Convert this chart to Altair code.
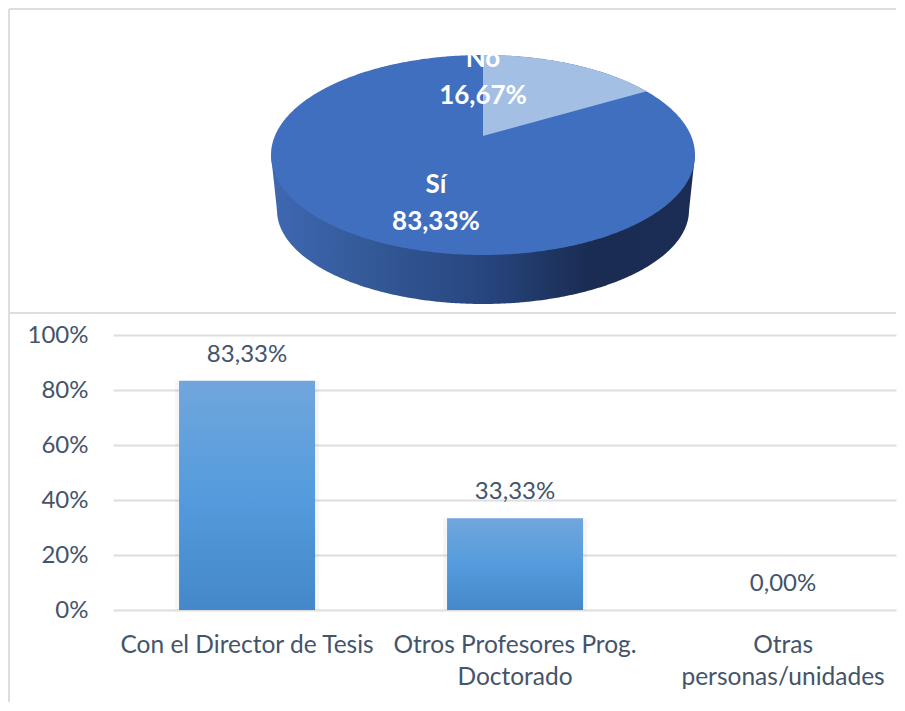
import numpy as np
import pandas as pd
import altair as alt

# ---- values
pie_labels = ["Sí", "No"]
pie_shares = [83.33, 16.67]
bar_categories = ["Con el Director de Tesis", "Otros Profesores Prog.\nDoctorado", "Otras\npersonas/unidades"]
bar_values = [83.33, 33.33, 0.0]
y_ticks = [0, 20, 40, 60, 80, 100]

FONT = "Lato"
TXT = "#44546A"
GRID = "#DEDEDE"
FRAME = "#DEDEDE"
W = 783


def pct(v):
    return f"{v:.2f}".replace(".", ",") + "%"


# ---- pie geometry in ellipse units (rx = ry = 1 on the two scales)
t = np.linspace(-np.pi / 2, np.pi / 2, 361)
xs = np.sin(t)
face = pd.DataFrame({"x": xs, "y": np.sqrt(np.clip(1 - xs**2, 0, 1)), "y2": -np.sqrt(np.clip(1 - xs**2, 0, 1))})

FORESHORTEN = 0.84
APEX = 0.19
theta = 2 * np.pi * pie_shares[1] / 100 * FORESHORTEN
xe = np.sin(theta)
xw = np.linspace(0, xe, 120)
ye = np.cos(theta)
wedge = pd.DataFrame({"x": xw, "y": np.sqrt(1 - xw**2), "y2": APEX + (ye - APEX) * xw / xe})

RX2, YC2, RY2 = 0.972, -0.55, 0.94
low = np.where(
    np.abs(xs) <= RX2,
    YC2 - RY2 * np.sqrt(np.clip(1 - (xs / RX2) ** 2, 0, 1)),
    YC2 * (1 - np.abs(xs)) / (1 - RX2),
)
wall = pd.DataFrame({"x": xs, "y": 0.0, "y2": low})

xdom = [-370 / 212, (W - 370) / 212]
ydom = [-1.8, 1.47]
X = alt.X("x:Q", scale=alt.Scale(domain=xdom, nice=False, zero=False), axis=None)
Y = alt.Y("y:Q", scale=alt.Scale(domain=ydom, nice=False, zero=False), axis=None)

wall_grad = alt.Gradient(
    gradient="linear", x1=0, x2=1, y1=0, y2=0,
    stops=[
        alt.GradientStop(color="#3F68B2", offset=0),
        alt.GradientStop(color="#335896", offset=0.25),
        alt.GradientStop(color="#27467F", offset=0.5),
        alt.GradientStop(color="#1A2C52", offset=0.75),
        alt.GradientStop(color="#1B2D55", offset=1),
    ],
)


def area(df, fill):
    return alt.Chart(df).mark_area(color=fill, line=False, interpolate="linear").encode(x=X, y=Y, y2="y2:Q")


pie_text = pd.DataFrame({
    "x": [0, 0, -0.222, -0.222],
    "y": [0.96, 0.59, -0.30, -0.67],
    "t": [pie_labels[1], pct(pie_shares[1]), pie_labels[0], pct(pie_shares[0])],
})
ptext = alt.Chart(pie_text).mark_text(
    font=FONT, fontSize=26, fontWeight="bold", color="white", baseline="middle", align="center"
).encode(x=X, y=Y, text="t:N")

one = pd.DataFrame({"a": [0]})
frame_top = alt.Chart(one).mark_rule(color=FRAME, strokeWidth=2).encode(
    x=alt.value(-104), x2=alt.value(W), y=alt.value(1))
frame_mid = alt.Chart(one).mark_rule(color=FRAME, strokeWidth=2).encode(
    x=alt.value(-104), x2=alt.value(W), y=alt.value(305))
frame_left = alt.Chart(one).mark_rule(color=FRAME, strokeWidth=2).encode(
    x=alt.value(-104), y=alt.value(1), y2=alt.value(327))

top = alt.layer(
    frame_top, frame_mid, frame_left,
    area(wall, wall_grad),
    area(face, "#416FBF"),
    area(wedge, "#A3C0E4"),
    ptext,
).properties(width=W, height=327)

# ---- bars
STEP, INNER = 268, 0.494
outer = W - STEP * (3 - INNER)
bars_df = pd.DataFrame({"cat": bar_categories, "v": bar_values, "t": [pct(v) for v in bar_values]})
bx = alt.X(
    "cat:N", sort=bar_categories, title=None,
    scale=alt.Scale(paddingInner=INNER, paddingOuter=outer / (2 * STEP), align=66.25 / outer),
    axis=alt.Axis(
        labelExpr="split(datum.label, '\\n')", labelAngle=0, labelFont=FONT, labelFontSize=24.5,
        labelColor=TXT, labelLimit=400, labelPadding=23, labelLineHeight=32,
        tickSize=0, domain=False, grid=False, labelBaseline="top",
    ),
)
by = alt.Y(
    "v:Q", title=None, scale=alt.Scale(domain=[0, 100], nice=False),
    axis=alt.Axis(
        values=y_ticks, labelExpr="datum.value + '%'", labelFont=FONT, labelFontSize=24,
        labelColor=TXT, labelPadding=25, tickSize=0, domain=False,
        grid=True, gridColor=GRID, gridWidth=2,
    ),
)
bar_grad = alt.Gradient(
    gradient="linear", x1=0, x2=0, y1=0, y2=1,
    stops=[
        alt.GradientStop(color="#71A6DC", offset=0),
        alt.GradientStop(color="#549CDD", offset=0.5),
        alt.GradientStop(color="#4488C9", offset=1),
    ],
)
shadow = alt.Chart(bars_df).mark_bar(size=144, color="#000000", opacity=0.035).encode(x=bx, y=by)
bars = alt.Chart(bars_df).mark_bar(size=136, color=bar_grad).encode(x=bx, y=by)
vals = alt.Chart(bars_df).mark_text(
    font=FONT, fontSize=24, color=TXT, dy=-26, baseline="middle", align="center"
).encode(x=bx, y=by, text="t:N")
frame_left2 = alt.Chart(one).mark_rule(color=FRAME, strokeWidth=2).encode(
    x=alt.value(-104), y=alt.value(-22), y2=alt.value(367))

bottom = alt.layer(frame_left2, shadow, bars, vals).properties(width=W, height=275)

chart = (
    alt.vconcat(top, bottom, spacing=0, bounds="flush", padding=0)
    .configure_view(stroke=None)
)
chart.save("out.html", embed_options={"renderer": "svg", "actions": False})
